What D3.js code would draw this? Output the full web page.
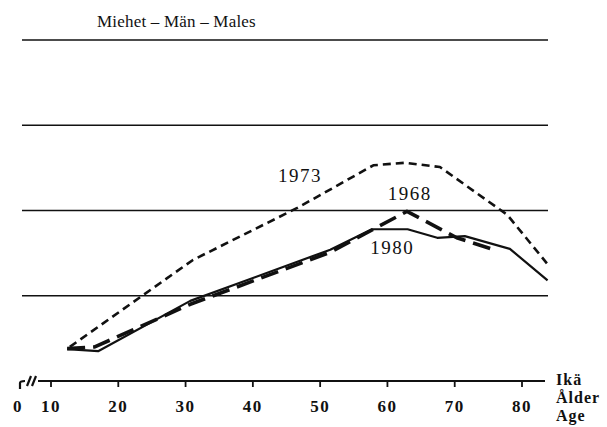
<!DOCTYPE html>
<html>
<head>
<meta charset="utf-8">
<script src="https://cdn.jsdelivr.net/npm/d3@7"></script>
<style>
  body { margin: 0; background: #fff; }
  text { font-family: "Liberation Serif", "DejaVu Serif", serif; fill: #111; }
</style>
</head>
<body>
<script>
// ikä (vuotta) ja arvot kolmelle vuodelle
var ages1980 = [12.4, 17, 30.7, 51.5, 57.7, 63, 67.4, 71.5, 78.2, 83.8];
var vals1980 = [0.375, 0.35, 0.94, 1.54, 1.78, 1.78, 1.68, 1.70, 1.55, 1.18];

var ages1968 = [12.4, 16.5, 30.7, 51.5, 62.9, 70.3, 75.4];
var vals1968 = [0.38, 0.40, 0.90, 1.51, 1.99, 1.68, 1.55];

var ages1973 = [12.8, 31.1, 46.6, 57.9, 62.6, 67.8, 77.8, 83.7];
var vals1973 = [0.40, 1.42, 2.03, 2.53, 2.56, 2.51, 1.95, 1.38];

var tickAges = [0, 10, 20, 30, 40, 50, 60, 70, 80];
var gridVals = [1, 2, 3, 4];
var title = "Miehet \u2013 Män \u2013 Males";
var axisTitle = ["Ikä", "Ålder", "Age"];

// SVGの幅と高さ
var svgWidth = 607;
var svgHeight = 427;

var svg = d3.select("body").append("svg").attr("width", svgWidth).attr("height", svgHeight);

// 0 と 10 の間は軸の切れ目
var x = d3.scaleLinear().domain([0, 10, 80]).range([18, 51, 522]);
var y = d3.scaleLinear().domain([0, 4]).range([381, 40]);

// 横線
svg.selectAll("line.grid")
    .data(gridVals)
    .enter()
    .append("line")
    .attr("class", "grid")
    .attr("x1", 22)
    .attr("x2", 548)
    .attr("y1", function (d) { return y(d); })
    .attr("y2", function (d) { return y(d); })
    .attr("stroke", "#111")
    .attr("stroke-width", 1.6);

// x軸
var axisG = svg.append("g").attr("transform", "translate(0," + y(0) + ")");
axisG.append("line")
    .attr("x1", x(0) + 20)
    .attr("x2", 545)
    .attr("stroke", "#111")
    .attr("stroke-width", 1.8);

axisG.selectAll("line.tick")
    .data(tickAges.slice(1))
    .enter()
    .append("line")
    .attr("class", "tick")
    .attr("x1", function (d) { return x(d); })
    .attr("x2", function (d) { return x(d); })
    .attr("y1", 0)
    .attr("y2", 6)
    .attr("stroke", "#111")
    .attr("stroke-width", 1.8);

// 切れ目の記号
var bx = x(0);
axisG.append("path")
    .attr("d", "M" + (bx + 2) + ",8 L" + (bx + 2) + ",2 Q" + (bx + 2) + ",0 " + (bx + 7) + ",0")
    .attr("fill", "none").attr("stroke", "#111").attr("stroke-width", 2.2);
axisG.append("path")
    .attr("d", "M" + (bx + 9) + ",5 L" + (bx + 13) + ",-5 M" + (bx + 14) + ",5 L" + (bx + 18) + ",-5")
    .attr("fill", "none").attr("stroke", "#111").attr("stroke-width", 2.2);

axisG.selectAll("text.tl")
    .data(tickAges)
    .enter()
    .append("text")
    .attr("class", "tl")
    .attr("x", function (d) { return x(d); })
    .attr("y", 31)
    .attr("text-anchor", "middle")
    .style("font-size", "17px")
    .style("font-weight", "bold")
    .style("letter-spacing", "1.5px")
    .text(function (d) { return d; });

axisG.selectAll("text.at")
    .data(axisTitle)
    .enter()
    .append("text")
    .attr("class", "at")
    .attr("x", 556)
    .attr("y", function (d, i) { return 4 + i * 18; })
    .style("font-size", "16px")
    .style("font-weight", "bold")
    .style("letter-spacing", "1px")
    .text(function (d) { return d; });

// タイトル
svg.append("text")
    .attr("x", 97)
    .attr("y", 27)
    .style("font-size", "17px")
    .style("letter-spacing", "0.2px")
    .text(title);

// 折れ線
var line = d3.line()
    .x(function (d) { return x(d[0]); })
    .y(function (d) { return y(d[1]); });

var series = [
    { ages: ages1980, vals: vals1980, width: 2.2, dash: null },
    { ages: ages1968, vals: vals1968, width: 3.6, dash: "18,8" },
    { ages: ages1973, vals: vals1973, width: 2.6, dash: "8,5" }
];

series.forEach(function (s) {
    svg.append("path")
        .datum(d3.zip(s.ages, s.vals))
        .attr("d", line)
        .attr("fill", "none")
        .attr("stroke", "#111")
        .attr("stroke-width", s.width)
        .attr("stroke-linejoin", "round")
        .attr("stroke-dasharray", s.dash);
});

// 年のラベル
var yearLabels = [
    { text: "1973", age: 47, val: 2.33 },
    { text: "1968", age: 63.3, val: 2.12 },
    { text: "1980", age: 60.7, val: 1.49 }
];

svg.selectAll("text.yl")
    .data(yearLabels)
    .enter()
    .append("text")
    .attr("class", "yl")
    .attr("x", function (d) { return x(d.age); })
    .attr("y", function (d) { return y(d.val); })
    .attr("text-anchor", "middle")
    .style("font-size", "19px")
    .style("letter-spacing", "1.5px")
    .text(function (d) { return d.text; });
</script>
</body>
</html>
